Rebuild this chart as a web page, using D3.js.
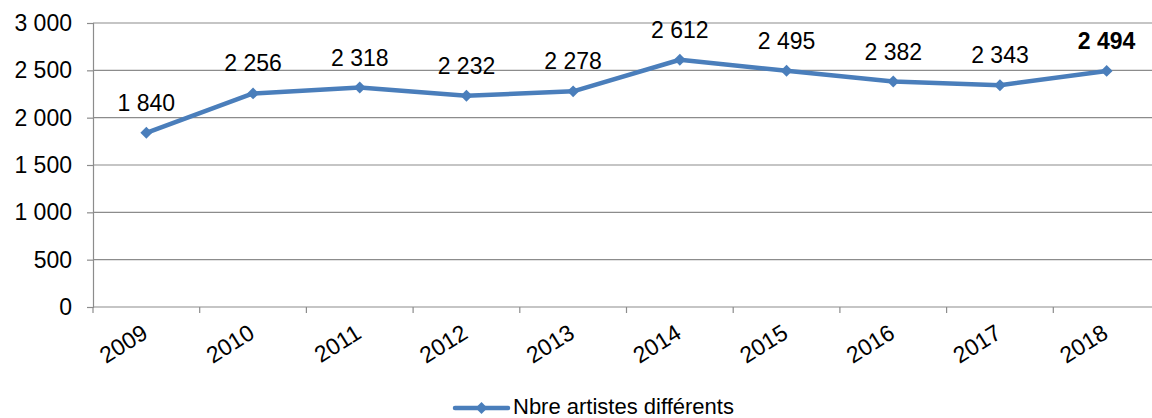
<!DOCTYPE html>
<html>
<head>
<meta charset="utf-8">
<script src="https://cdn.jsdelivr.net/npm/d3@7/dist/d3.min.js"></script>
<style>
  html, body { margin: 0; padding: 0; background: #fff; }
  svg { display: block; font-family: "Liberation Sans", Arial, sans-serif; }
</style>
</head>
<body>
<svg id="chart" width="1152" height="418"></svg>
<script>
const years = ["2009", "2010", "2011", "2012", "2013", "2014", "2015", "2016", "2017", "2018"];
const artists = [1840, 2256, 2318, 2232, 2278, 2612, 2495, 2382, 2343, 2494];
const yTicks = [0, 500, 1000, 1500, 2000, 2500, 3000];
const seriesName = "Nbre artistes différents";

const svg = d3.select("#chart");
const margin = { left: 93, top: 23, right: 1160, bottom: 307 };
const lineColor = "#4a7ebb";
const gridColor = "#8c8c8c";
const fontSize = 23;

const x = d3.scaleBand().domain(years).range([margin.left, margin.right]);
const y = d3.scaleLinear().domain([0, 3000]).range([margin.bottom, margin.top]);
const fmt = v => d3.format(",")(v).replace(/,/g, " ");
const cx = d => x(d) + x.bandwidth() / 2;

// horizontal gridlines
svg.append("g").selectAll("line").data(yTicks.filter(d => d > 0)).join("line")
  .attr("x1", margin.left).attr("x2", 1152)
  .attr("y1", d => y(d)).attr("y2", d => y(d))
  .attr("stroke", gridColor).attr("stroke-width", 1.2);

// y axis
const yAxis = svg.append("g").attr("transform", `translate(${margin.left},0)`)
  .call(d3.axisLeft(y).tickValues(yTicks).tickSize(6).tickPadding(15).tickFormat(fmt));
yAxis.select(".domain").attr("stroke", gridColor).attr("stroke-width", 1.2);
yAxis.selectAll(".tick line").attr("stroke", gridColor).attr("stroke-width", 1.2);
yAxis.selectAll("text").attr("font-size", fontSize).attr("fill", "#000")
  .attr("font-family", "Liberation Sans, Arial, sans-serif");

// x axis with ticks at category boundaries
const xAxisG = svg.append("g").attr("transform", `translate(0,${margin.bottom})`);
xAxisG.append("line").attr("x1", margin.left).attr("x2", 1152).attr("y1", 0).attr("y2", 0)
  .attr("stroke", gridColor).attr("stroke-width", 1.2);
const boundaries = years.map(d => x(d)).concat([x(years[years.length - 1]) + x.bandwidth()]);
xAxisG.selectAll("line.tk").data(boundaries).join("line").attr("class", "tk")
  .attr("x1", d => d).attr("x2", d => d).attr("y1", 0).attr("y2", 6)
  .attr("stroke", gridColor).attr("stroke-width", 1.2);
xAxisG.selectAll("text").data(years).join("text")
  .attr("transform", d => `translate(${cx(d) + 3},${30}) rotate(-32)`)
  .attr("text-anchor", "end")
  .attr("font-size", fontSize).attr("fill", "#000")
  .text(d => d);

// series line
const pts = years.map((d, i) => ({ year: d, v: artists[i] }));
const line = d3.line().x(d => cx(d.year)).y(d => y(d.v));
svg.append("path").datum(pts)
  .attr("d", line).attr("fill", "none")
  .attr("stroke", lineColor).attr("stroke-width", 4.5).attr("stroke-linejoin", "round");

// diamond markers
const diamond = d3.symbol().type(d3.symbolDiamond2).size(90);
svg.append("g").selectAll("path").data(pts).join("path")
  .attr("d", diamond)
  .attr("transform", d => `translate(${cx(d.year)},${y(d.v)})`)
  .attr("fill", lineColor);

// value labels
svg.append("g").selectAll("text").data(pts).join("text")
  .attr("x", d => cx(d.year))
  .attr("y", d => y(d.v) - 22)
  .attr("text-anchor", "middle")
  .attr("font-size", fontSize)
  .attr("font-weight", (d, i) => i === pts.length - 1 ? "bold" : "normal")
  .attr("fill", "#000")
  .text(d => fmt(d.v));

// legend
const lg = svg.append("g").attr("transform", "translate(455,408)");
lg.append("line").attr("x1", 0).attr("x2", 53).attr("y1", 0).attr("y2", 0)
  .attr("stroke", lineColor).attr("stroke-width", 4.5).attr("stroke-linecap", "round");
lg.append("path").attr("d", diamond).attr("transform", "translate(26.5,0)").attr("fill", lineColor);
lg.append("text").attr("x", 58).attr("y", 5.5).attr("font-size", 22).attr("fill", "#000").text(seriesName);
</script>
</body>
</html>
